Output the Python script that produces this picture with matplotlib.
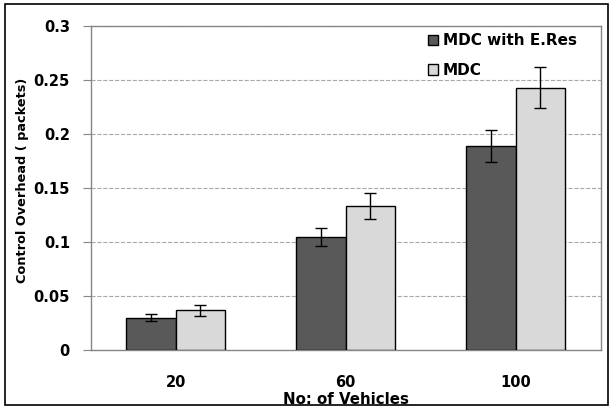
import numpy as np
import matplotlib.pyplot as plt
from matplotlib.patches import Rectangle

categories = ['20', '60', '100']
eres_vals = [0.030, 0.105, 0.189]
eres_err = [0.003, 0.0085, 0.015]
mdc_vals = [0.037, 0.133, 0.243]
mdc_err = [0.005, 0.012, 0.019]

plt.rcParams['font.family'] = ['DejaVu Sans']
plt.rcParams['font.weight'] = 'bold'

fig = plt.figure(figsize=(6.13, 4.08), dpi=100)
ax = fig.add_axes([0.148, 0.142, 0.832, 0.794])

x = np.arange(len(categories))
w = 0.29
ax.bar(x - w / 2, eres_vals, w, yerr=eres_err, color='#595959', edgecolor='black',
       linewidth=1, capsize=4, error_kw={'elinewidth': 1, 'capthick': 1},
       label='MDC with E.Res', zorder=3)
ax.bar(x + w / 2, mdc_vals, w, yerr=mdc_err, color='#d9d9d9', edgecolor='black',
       linewidth=1, capsize=4, error_kw={'elinewidth': 1, 'capthick': 1},
       label='MDC', zorder=3)

ax.set_xlim(-0.5, 2.5)
ax.set_ylim(0, 0.3)
ax.set_yticks([0, 0.05, 0.1, 0.15, 0.2, 0.25, 0.3])
ax.set_yticklabels(['0', '0.05', '0.1', '0.15', '0.2', '0.25', '0.3'])
ax.set_xticks(x)
ax.set_xticklabels(categories)
ax.tick_params(axis='y', length=6, color='#868686', labelsize=10.5, pad=9)
ax.tick_params(axis='x', length=0, labelsize=10.5, pad=18)
for lab in ax.get_xticklabels() + ax.get_yticklabels():
    lab.set_fontweight('bold')

ax.yaxis.grid(True, linestyle='--', color='#a8a8a8', linewidth=0.8, zorder=0)
ax.set_axisbelow(True)
for s in ax.spines.values():
    s.set_color('#868686')
    s.set_linewidth(1)

ax.set_ylabel('Control Overhead ( packets)', fontsize=9.3, fontweight='bold')
ax.yaxis.set_label_coords(-0.122, 0.525)
ax.set_xlabel('No: of Vehicles', fontsize=10.8, fontweight='bold')
ax.xaxis.set_label_coords(0.5, -0.128)

leg = ax.legend(loc='upper right', bbox_to_anchor=(0.98, 1.02), frameon=False,
                prop={'size': 11, 'weight': 'bold'}, handlelength=0.7,
                handleheight=0.7, handletextpad=0.3, labelspacing=0.95)

fig.patches.append(Rectangle((0.008, 0.008), 0.984, 0.982, transform=fig.transFigure,
                             fill=False, edgecolor='black', linewidth=1.2))

fig.savefig('out.png', dpi=100)
